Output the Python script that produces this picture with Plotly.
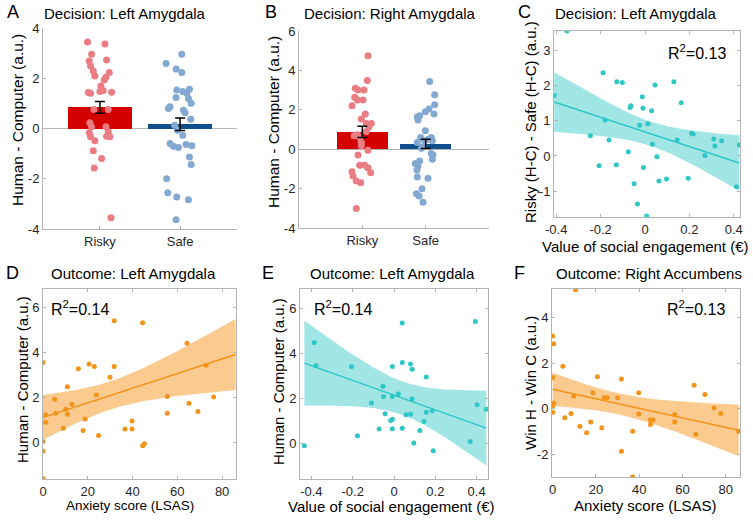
import numpy as np
import plotly.graph_objects as go

W, H = 753, 521

# ---- A: decision, left amygdala (human - computer) ----
a_cats = ["Risky", "Safe"]
a_means = [0.84, 0.17]
a_sem = [0.23, 0.25]
a_risky_jit = [-0.154, 0.063, -0.104, -0.133, 0.083, -0.117, -0.083, 0.117, -0.063, 0.075,
               0.054, 0.013, -0.146, -0.117, 0.042, 0.0, 0.146, -0.075, 0.104, -0.125,
               -0.104, 0.075, -0.133, 0.104, -0.117, -0.063, 0.083, 0.125, -0.083, 0.021,
               -0.071, 0.138]
a_risky_val = [3.44, 3.36, 2.96, 2.69, 2.73, 2.49, 2.29, 2.23, 2.09, 2.04,
               1.93, 1.69, 1.43, 1.40, 1.51, 1.47, 1.44, 0.76, 0.76, 0.23,
               0.07, 0.07, -0.17, -0.13, -0.33, -0.49, -0.31, -0.33, -0.89, -1.19,
               -1.57, -3.55]
a_safe_jit = [0.021, -0.175, -0.05, 0.021, 0.117, -0.042, 0.033, 0.083, -0.05, 0.104,
              0.138, -0.125, -0.146, 0.042, 0.063, 0.133, -0.067, -0.033, 0.033, -0.125,
              -0.083, -0.021, 0.075, 0.146, 0.117, 0.138, -0.167, -0.154, -0.042, 0.104,
              -0.05]
a_safe_val = [2.96, 2.59, 2.37, 2.23, 1.56, 1.53, 1.47, 1.40, 1.23, 1.19,
              1.00, 0.87, 0.80, 0.73, 0.63, 0.37, 0.13, -0.07, -0.27, -0.60,
              -0.71, -0.76, -0.64, -0.69, -1.13, -1.43, -2.0, -2.56, -2.73, -2.84,
              -3.63]

# ---- B: decision, right amygdala ----
b_means = [0.88, 0.27]
b_sem = [0.29, 0.24]
b_risky_jit = [0.089, 0.079, -0.111, -0.068, 0.026, -0.121, -0.079, 0.011, -0.163, 0.047,
               -0.016, 0.063, 0.142, 0.100, -0.132, -0.079, -0.042, 0.063, -0.016, -0.016,
               0.089, -0.068, -0.042, 0.037, 0.089, -0.163, 0.132, -0.147, -0.095, -0.026,
               -0.095]
b_risky_val = [4.74, 3.49, 3.10, 3.01, 3.01, 2.64, 2.50, 2.50, 2.21, 1.79,
               1.53, 1.31, 1.31, 1.11, 0.68, 0.73, 0.60, 0.90, 0.34, 0.17,
               -0.05, -0.29, -0.82, -0.82, -0.94, -1.14, -1.19, -1.36, -1.62, -1.70,
               -3.01]
b_safe_jit = [0.063, 0.142, 0.142, 0.053, -0.005, -0.132, -0.095, 0.132, -0.121, -0.005,
              -0.079, 0.089, 0.037, 0.105, -0.016, -0.132, -0.042, -0.068, 0.089, 0.116,
              0.105, -0.095, -0.163, -0.121, -0.137, -0.132, 0.037, -0.058, -0.147, -0.105,
              -0.042]
b_safe_val = [3.44, 2.76, 2.26, 2.04, 1.90, 1.65, 1.70, 1.79, 1.48, 0.94,
              0.60, 0.60, 0.51, 0.43, 0.43, 0.34, 0.12, 0.05, -0.22, -0.29,
              -0.51, -0.60, -0.73, -0.85, -1.05, -1.41, -1.48, -2.01, -2.26, -2.38,
              -2.69]

# ---- C: social engagement vs risky-safe ----
c_x = [-0.352, -0.409, -0.189, -0.127, -0.102, 0.045, 0.130, -0.180, -0.246, -0.162,
       -0.067, -0.064, -0.012, -0.009, 0.030, -0.024, 0.013, 0.163, -0.075, 0.033,
       0.054, 0.145, 0.210, 0.217, 0.270, 0.310, 0.315, 0.345, 0.425, 0.412,
       -0.207, -0.129, -0.007, -0.049, -0.034, 0.007, 0.063, 0.097, 0.195]
c_y = [3.54, 1.71, 2.36, 2.10, 2.08, 2.01, 2.10, 1.02, 0.57, 0.45,
       1.37, 1.42, 1.68, 1.35, 1.28, 0.87, 0.91, 1.51, 0.12, 0.33,
       -0.02, 0.45, 0.64, 0.62, 0.01, 0.48, 0.28, 0.43, 0.31, -0.87,
       -0.28, -0.25, -0.33, -0.79, -1.36, -1.70, -0.71, -0.65, -0.63]

# ---- D: LSAS vs outcome left amygdala (top points run off the axis) ----
d_x = [36.6, 86.0, 31.8, 44.5, 0, 15.8, 20.6, 22.9, 31.8, 29.9,
       64.3, 72.9, 10.9, 23.9, 5.2, 12.9, 1.2, 5.7, 10.2, 10.9,
       1.2, 9.1, 18.8, 17.9, 24.8, 36.6, 39.8, 39.8, 55.5, 55.5,
       65.2, 69.2, 76.2, 44.5, 45.3, 0, 0, 0]
d_y = [7.6, 7.8, 5.41, 5.33, 3.55, 3.27, 3.49, 3.37, 3.37, 2.90,
       4.41, 3.43, 2.47, 2.11, 1.92, 1.69, 1.22, 1.29, 1.47, 1.25,
       0.89, 0.62, 1.03, 0.52, 0.30, 0.59, 0.95, 0.59, 2.04, 1.29,
       1.74, 1.37, 2.01, -0.16, -0.07, 0.03, -0.39, -1.62]

# ---- E: social engagement vs outcome left amygdala (clipped top / bottom points) ----
e_x = [-0.108, -0.053, 0.040, 0.394, -0.386, -0.378, -0.206, -0.008, 0.040, 0.080,
       0.088, 0.156, -0.053, -0.051, -0.008, 0.021, 0.088, -0.109, -0.043, -0.016,
       -0.008, 0.059, 0.080, 0.156, 0.185, 0.145, 0.402, 0.447, -0.072, -0.008,
       0.040, 0.125, -0.177, 0.096, 0.190, 0.369, -0.434, 0.429]
e_y = [7.6, 7.6, 5.34, 5.41, 4.48, 3.45, 3.42, 3.42, 3.60, 3.53,
       3.30, 2.95, 2.54, 2.09, 2.09, 2.20, 1.98, 1.80, 1.33, 1.03,
       1.09, 1.28, 1.31, 1.39, 1.46, 0.99, 1.73, 1.53, 0.65, 0.66,
       0.69, 0.59, 0.35, 0.03, -0.31, 0.10, -0.09, -5.8]

# ---- F: LSAS vs outcome right accumbens ----
f_x = [10.6, 0, 0.5, 4.7, 0, 20.7, 31.8, 0, 0, 0.5,
       9.8, 18.6, 23.8, 25.2, 30.0, 39.8, 5.6, 8.5, 12.6, 17.6,
       15.7, 22.7, 37.0, 39.8, 45.2, 46.3, 45.2, 56.4, 56.4, 65.4,
       70.4, 66.2, 74.6, 77.7, 86.0, 31.8, 37.0]
f_y = [5.21, 3.19, 2.85, 1.86, 1.37, 1.40, 1.30, 0.12, -0.15, 0.26,
       0.55, 0.70, 0.49, 0.48, 0.49, 0.70, -0.39, -0.20, -0.76, -0.57,
       -1.05, -0.83, -0.98, -0.23, -0.49, -0.49, -0.68, -0.25, -0.57, 1.03,
       0.63, -1.11, 0.04, -0.20, -0.98, -1.85, -2.97]

r2_labels = ["R<sup>2</sup>=0.13", "R<sup>2</sup>=0.14", "R<sup>2</sup>=0.14", "R<sup>2</sup>=0.13"]
soc_ticks = [-0.4, -0.2, 0, 0.2, 0.4]
soc_text = ["-0.4", "-0.2", "0", "0.2", "0.4"]
lsas_ticks = [0, 20, 40, 60, 80]

RED, BLUE = "#d50000", "#114e8d"
RED_DOT, BLUE_DOT = "#ea7d83", "#83a9d1"
TEAL, TEAL_FILL = "#2fc6c6", "rgba(47,198,198,0.45)"
ORANGE, ORANGE_FILL = "#f2941b", "rgba(245,150,30,0.5)"
FONT = "Liberation Sans, Arial, sans-serif"
AX = "#b4b4b4"
TXT = "#262626"


def pxx(x):
    return x / W


def pxy(y):
    return 1 - y / H


def dom(x0, x1, y0, y1):
    # pixel box -> paper domains
    return [pxx(x0), pxx(x1)], [pxy(y1), pxy(y0)]


def fit_band(x, y):
    x = np.asarray(x, float)
    y = np.asarray(y, float)
    n = len(x)
    b1, b0 = np.polyfit(x, y, 1)
    res = y - (b0 + b1 * x)
    s = np.sqrt(np.sum(res ** 2) / (n - 2))
    xm = x.mean()
    sxx = np.sum((x - xm) ** 2)
    xs = np.linspace(x.min(), x.max(), 80)
    yh = b0 + b1 * xs
    se = s * np.sqrt(1 / n + (xs - xm) ** 2 / sxx)
    t = 2.03
    return xs, yh, yh - t * se, yh + t * se


fig = go.Figure()

boxes = {
    1: dom(43, 237, 28, 229),
    2: dom(299, 489, 31, 228),
    3: dom(554, 740, 31, 217),
    4: dom(43, 236, 289, 479),
    5: dom(300, 488, 289, 479),
    6: dom(552, 740, 289, 477),
}


def axname(i, a):
    return f"{a}axis" if i == 1 else f"{a}axis{i}"


def ref(i, a):
    return a if i == 1 else f"{a}{i}"


# bar panels
for i, means, sem, rj, rv, sj, sv in [
    (1, a_means, a_sem, a_risky_jit, a_risky_val, a_safe_jit, a_safe_val),
    (2, b_means, b_sem, b_risky_jit, b_risky_val, b_safe_jit, b_safe_val),
]:
    xr, yr = ref(i, "x"), ref(i, "y")
    fig.add_trace(go.Bar(x=[1, 2], y=means, width=0.8, marker_color=[RED, BLUE],
                         marker_line_width=0, xaxis=xr, yaxis=yr))
    fig.add_trace(go.Scatter(x=[1 + j for j in rj], y=rv, mode="markers",
                             marker=dict(color=RED_DOT, size=7), xaxis=xr, yaxis=yr))
    fig.add_trace(go.Scatter(x=[2 + j for j in sj], y=sv, mode="markers",
                             marker=dict(color=BLUE_DOT, size=7), xaxis=xr, yaxis=yr))
    fig.add_trace(go.Scatter(x=[1, 2], y=means, mode="markers", marker=dict(opacity=0),
                             error_y=dict(type="data", array=sem, color="black",
                                          thickness=1.5, width=5),
                             xaxis=xr, yaxis=yr))

# regression panels
for i, x, y, col, fill in [
    (3, c_x, c_y, TEAL, TEAL_FILL),
    (4, d_x, d_y, ORANGE, ORANGE_FILL),
    (5, e_x, e_y, TEAL, TEAL_FILL),
    (6, f_x, f_y, ORANGE, ORANGE_FILL),
]:
    xr, yr = ref(i, "x"), ref(i, "y")
    xs, yh, lo, hi = fit_band(x, y)
    fig.add_trace(go.Scatter(x=np.concatenate([xs, xs[::-1]]),
                             y=np.concatenate([hi, lo[::-1]]),
                             fill="toself", fillcolor=fill, line=dict(width=0),
                             mode="lines", xaxis=xr, yaxis=yr))
    fig.add_trace(go.Scatter(x=xs, y=yh, mode="lines", line=dict(color=col, width=1.5),
                             xaxis=xr, yaxis=yr))
    fig.add_trace(go.Scatter(x=x, y=y, mode="markers", marker=dict(color=col, size=5),
                             xaxis=xr, yaxis=yr))

base = dict(showgrid=False, showline=True, linecolor=AX, linewidth=1, ticks="inside",
            ticklen=3, tickcolor=AX, tickfont=dict(size=13, color=TXT, family=FONT),
            zeroline=False, automargin=False)

layout = {}
ranges = {
    1: dict(x=[0.29, 2.71], y=[-4, 4]),
    2: dict(x=[0, 3], y=[-4, 6]),
    3: dict(x=[-0.41, 0.428], y=[-1.73, 3.54]),
    4: dict(x=[0, 86.2], y=[-1.64, 6.83]),
    5: dict(x=[-0.455, 0.455], y=[-1.56, 6.85]),
    6: dict(x=[-0.3, 86.6], y=[-2.98, 5.24]),
}
yticks = {1: [-4, -2, 0, 2, 4], 2: [-4, -2, 0, 2, 4, 6], 3: [-1, 0, 1, 2, 3],
          4: [0, 2, 4, 6], 5: [0, 2, 4, 6], 6: [-2, 0, 2, 4]}
for i in range(1, 7):
    xd, yd = boxes[i]
    box = i >= 3
    xa = dict(base, domain=xd, anchor=ref(i, "y"), range=ranges[i]["x"],
              mirror="ticks" if box else False)
    ya = dict(base, domain=yd, anchor=ref(i, "x"), range=ranges[i]["y"],
              mirror="ticks" if box else False,
              tickvals=yticks[i], ticktext=[str(v) for v in yticks[i]])
    if i <= 2:
        xa.update(tickvals=[1, 2], ticktext=a_cats)
        ya.update(zeroline=True, zerolinecolor=AX, zerolinewidth=1)
    elif i in (3, 5):
        xa.update(tickvals=soc_ticks, ticktext=soc_text)
    else:
        xa.update(tickvals=lsas_ticks, ticktext=[str(v) for v in lsas_ticks])
    layout[axname(i, "x")] = xa
    layout[axname(i, "y")] = ya

ann = []


def label(text, x, y, size, angle=0, color="black"):
    ann.append(dict(text=text, x=pxx(x), y=pxy(y), xref="paper", yref="paper",
                    showarrow=False, textangle=angle, xanchor="center", yanchor="middle",
                    font=dict(size=size, color=color, family=FONT)))


# panel letters
for t, x, y in [("A", 13, 12), ("B", 271, 12), ("C", 524, 12),
                ("D", 12, 273), ("E", 268, 273), ("F", 519, 273)]:
    label(t, x, y, 18)
# titles
for t, x, y in [("Decision: Left Amygdala", 125, 13), ("Decision: Right Amygdala", 390, 13),
                ("Decision: Left Amygdala", 636, 13), ("Outcome: Left Amygdala", 133, 273),
                ("Outcome: Left Amygdala", 392, 273), ("Outcome: Right Accumbens", 649, 273)]:
    label(t, x, y, 15)
# y titles
for t, x, y, s in [("Human - Computer (a.u.)", 18, 120, 15.5),
                   ("Human - Computer (a.u.)", 273, 122, 15.5),
                   ("Risky (H-C) - Safe (H-C) (a.u.)", 530, 122, 15),
                   ("Human - Computer (a.u.)", 22, 380, 15),
                   ("Human - Computer (a.u.)", 278, 382, 15),
                   ("Win H - Win C (a.u.)", 530, 383, 15)]:
    label(t, x, y, s, angle=-90)
# x titles
for t, x, y, s in [("Value of social engagement (€)", 645, 246, 15),
                   ("Anxiety score (LSAS)", 130, 505, 13.5),
                   ("Value of social engagement (€)", 391, 506, 15),
                   ("Anxiety score (LSAS)", 645, 505, 15)]:
    label(t, x, y, s)
# R^2
for t, x, y in zip(r2_labels, [697, 80, 343, 696], [52, 308, 308, 308]):
    label(t, x, y, 16)

fig.update_layout(**layout)
fig.update_layout(width=W, height=H, margin=dict(l=0, r=0, t=0, b=0),
                  plot_bgcolor="white", paper_bgcolor="white", showlegend=False,
                  hovermode=False, annotations=ann, bargap=0)

# drop the default 8px page margin so the figure sits flush in the window
fig.write_html("out.html", config={"displayModeBar": False},
               post_script="document.body.style.margin='0';")
